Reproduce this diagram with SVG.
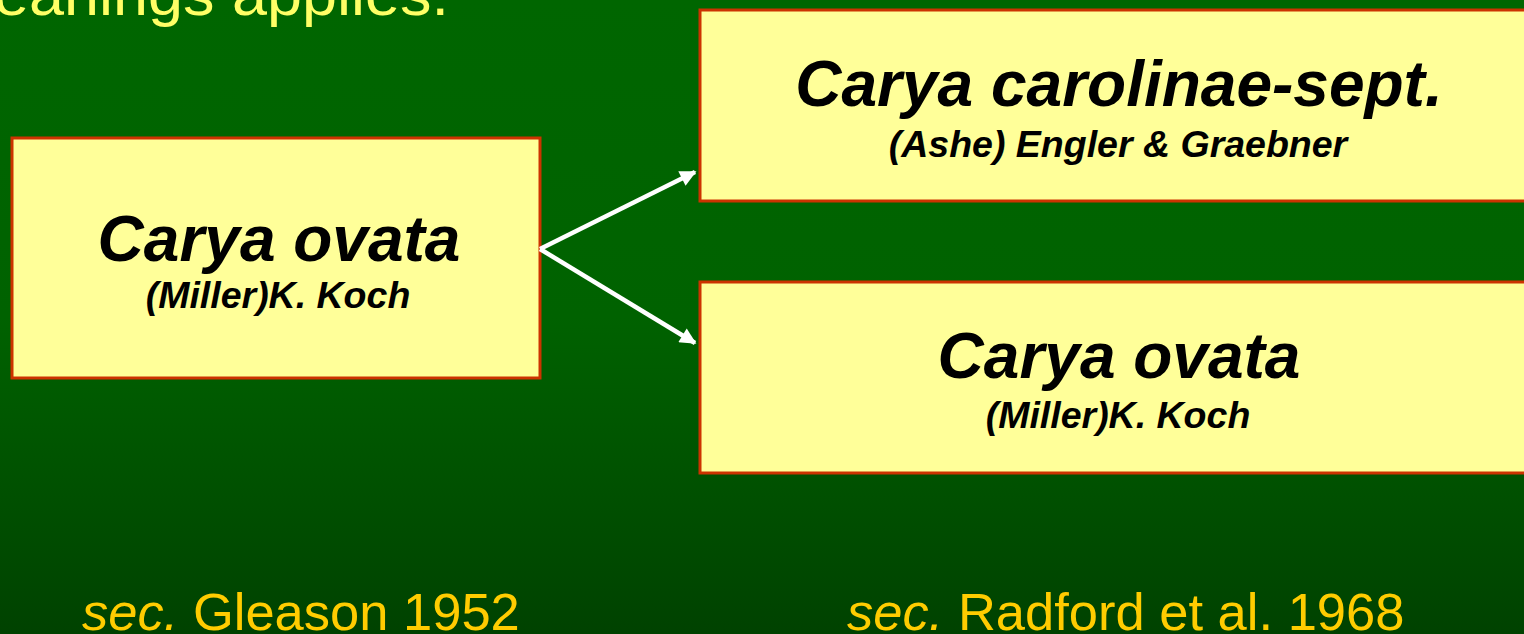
<svg xmlns="http://www.w3.org/2000/svg" width="1524" height="634" viewBox="0 0 1524 634">
<defs>
<linearGradient id="bg" x1="0" y1="0" x2="0" y2="1">
<stop offset="0" stop-color="#006600"/>
<stop offset="0.5" stop-color="#006200"/>
<stop offset="1" stop-color="#004200"/>
</linearGradient>
<marker id="ah" viewBox="0 0 10 10" refX="9" refY="5" markerWidth="4.2" markerHeight="3.6" orient="auto" markerUnits="strokeWidth">
<path d="M0,0 L10,5 L0,10 z" fill="#ffffff"/>
</marker>
<style>
.box{fill:#FFFF99;stroke:#CC3300;stroke-width:3}
.t{font-family:"Liberation Sans",Arial,sans-serif;font-weight:bold;font-style:italic;fill:#000;text-anchor:middle}
.title{font-size:64px}
.sub{font-size:37.5px}
.src{font-family:"Liberation Sans",Arial,sans-serif;font-size:52.5px;fill:#FFCC00}
.conn{stroke:#ffffff;stroke-width:4.5;fill:none}
</style>
</defs>
<rect x="0" y="0" width="1524" height="634" fill="url(#bg)"/>
<text x="-6" y="15" font-family="'Liberation Sans',Arial,sans-serif" font-size="60" fill="#FFFF66" textLength="455" lengthAdjust="spacingAndGlyphs">eanings applies.</text>

<g id="node-left">
<rect class="box" x="12" y="138" width="528" height="240"/>
<text class="t title" x="279" y="261">Carya ovata</text>
<text class="t sub" x="278" y="308">(Miller)K. Koch</text>
</g>

<g id="node-top-right">
<rect class="box" x="700" y="10" width="830" height="191"/>
<text class="t title" x="1119" y="106">Carya carolinae-sept.</text>
<text class="t sub" x="1118" y="157">(Ashe) Engler &amp; Graebner</text>
</g>

<g id="node-bottom-right">
<rect class="box" x="700" y="282" width="830" height="191"/>
<text class="t title" x="1119" y="378">Carya ovata</text>
<text class="t sub" x="1118" y="428">(Miller)K. Koch</text>
</g>

<g id="connectors">
<line class="conn" x1="540" y1="249" x2="695" y2="172" marker-end="url(#ah)"/>
<line class="conn" x1="540" y1="249" x2="695" y2="343" marker-end="url(#ah)"/>
</g>

<g id="sources">
<text class="src" x="82" y="630"><tspan font-style="italic">sec.</tspan> Gleason 1952</text>
<text class="src" x="847" y="630"><tspan font-style="italic">sec.</tspan> Radford et al. 1968</text>
</g>
</svg>
